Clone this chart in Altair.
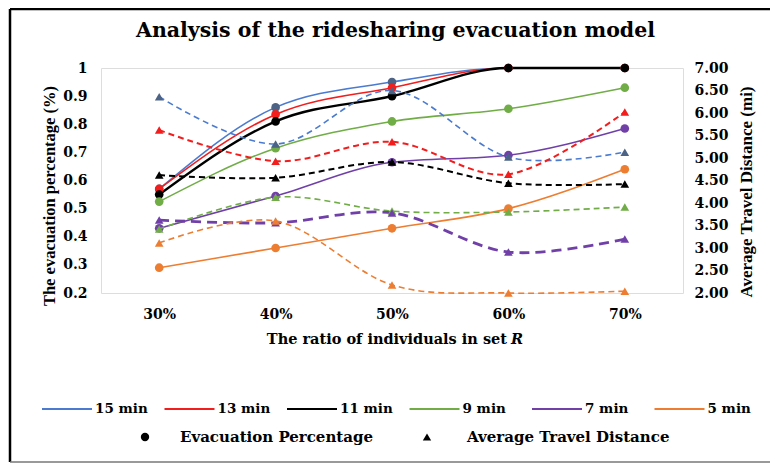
import altair as alt
import pandas as pd

ratios = ["30%", "40%", "50%", "60%", "70%"]
series = ["15 min", "13 min", "11 min", "9 min", "7 min", "5 min"]

evac_15 = [0.57, 0.86, 0.95, 1.00, 1.00]
evac_13 = [0.57, 0.835, 0.93, 1.00, 1.00]
evac_11 = [0.55, 0.81, 0.90, 1.00, 1.00]
evac_9 = [0.525, 0.715, 0.81, 0.855, 0.93]
evac_7 = [0.43, 0.545, 0.665, 0.69, 0.785]
evac_5 = [0.29, 0.36, 0.43, 0.50, 0.64]

dist_15 = [6.36, 5.31, 6.50, 5.02, 5.13]
dist_13 = [5.62, 4.93, 5.36, 4.64, 6.02]
dist_11 = [4.62, 4.56, 4.91, 4.44, 4.42]
dist_9 = [3.42, 4.13, 3.82, 3.80, 3.91]
dist_7 = [3.62, 3.56, 3.78, 2.91, 3.20]
dist_5 = [3.11, 3.60, 2.18, 2.00, 2.04]

left_ticks = [0.2, 0.3, 0.4, 0.5, 0.6, 0.7, 0.8, 0.9, 1.0]
right_ticks = [2.0, 2.5, 3.0, 3.5, 4.0, 4.5, 5.0, 5.5, 6.0, 6.5, 7.0]
metrics = ["Evacuation Percentage", "Average Travel Distance"]

title_text = "Analysis of the ridesharing evacuation model"
x_title = "The ratio of individuals in set"
x_title_it = "R"
y_left_title = "The evacuation percentage (%)"
y_right_title = "Average Travel Distance (mi)"

colors = ["#4A7BD0", "#F21E1E", "#000000", "#70AD47", "#7040A8", "#ED7D31"]
marker_blue = "#4D6385"

evac_all = [evac_15, evac_13, evac_11, evac_9, evac_7, evac_5]
dist_all = [dist_15, dist_13, dist_11, dist_9, dist_7, dist_5]


def build(rows_all, metric):
    recs = []
    for s, vals in zip(series, rows_all):
        for r, v in zip(ratios, vals):
            recs.append({"series": s, "ratio": r, "value": v, "metric": metric})
    return pd.DataFrame(recs)


evac_df = build(evac_all, metrics[0])
dist_df = build(dist_all, metrics[1])

FONT = "DejaVu Serif"
VFONT = "Liberation Serif"
W, H = 582, 225
PAD_L, PAD_T = 93, 60
TOTAL_W, TOTAL_H = 762, 455

color_scale = alt.Scale(domain=series, range=colors)
shape_scale = alt.Scale(domain=metrics, range=["circle", "triangle-up"])

x_enc = alt.X("ratio:O", sort=ratios,
              scale=alt.Scale(type="point", padding=0.5),
              axis=alt.Axis(labelAngle=0, title=None, ticks=False, domain=False,
                            labelPadding=14, labelFont=FONT, labelFontSize=14,
                            labelFontWeight="bold", labelColor="black"))

y_left = alt.Y("value:Q", scale=alt.Scale(domain=[0.2, 1.0], nice=False, zero=False),
               axis=alt.Axis(values=left_ticks, format=".1~f", title=None, grid=False,
                             ticks=False, domain=False, labelPadding=14, labelFont=FONT,
                             labelFontSize=14, labelFontWeight="bold", labelColor="black"))
y_right = alt.Y("value:Q", scale=alt.Scale(domain=[2.0, 7.0], nice=False, zero=False),
                axis=alt.Axis(orient="right", values=right_ticks, format=".2f", title=None,
                              grid=False, ticks=False, domain=False, labelPadding=11,
                              labelFont=FONT, labelFontSize=14, labelFontWeight="bold",
                              labelColor="black"))

is_blue = alt.datum.series == "15 min"

evac_line = alt.Chart(evac_df).mark_line(interpolate="monotone").encode(
    x=x_enc, y=y_left,
    color=alt.Color("series:N", scale=color_scale, legend=None),
    strokeWidth=alt.when(alt.datum.series == "11 min").then(alt.value(2.4)).otherwise(alt.value(1.6)),
)
evac_pts = alt.Chart(evac_df).mark_point(filled=True, opacity=1, size=75).encode(
    x=x_enc, y=y_left,
    shape=alt.Shape("metric:N", scale=shape_scale, legend=None),
    color=alt.when(is_blue).then(alt.value(marker_blue)).otherwise(
        alt.Color("series:N", scale=color_scale, legend=None)),
)

dist_line = alt.Chart(dist_df).mark_line(interpolate="cardinal").encode(
    x=x_enc, y=y_right,
    color=alt.Color("series:N", scale=color_scale, legend=None),
    strokeDash=alt.when(alt.datum.series == "7 min").then(alt.value([10, 6])).otherwise(alt.value([6, 4])),
    strokeWidth=alt.when(alt.datum.series == "7 min").then(alt.value(2.8))
        .when((alt.datum.series == "11 min") | (alt.datum.series == "13 min")).then(alt.value(2.0))
        .otherwise(alt.value(1.6)),
)
dist_pts = alt.Chart(dist_df).mark_point(filled=True, opacity=1, size=75).encode(
    x=x_enc, y=y_right,
    shape=alt.Shape("metric:N", scale=shape_scale, legend=None),
    color=alt.when(is_blue).then(alt.value(marker_blue)).otherwise(
        alt.Color("series:N", scale=color_scale, legend=None)),
)

evac_layer = alt.layer(evac_line, evac_pts)
dist_layer = alt.layer(dist_line, dist_pts)

one = pd.DataFrame({"k": [0]})


def text_layer(txt, x, y, size, angle=0, align="center", italic=False,
               baseline="alphabetic", font=FONT):
    kw = dict(font=font, fontSize=size, fontWeight="bold", color="black",
              align=align, baseline=baseline)
    if angle:
        kw["angle"] = angle
    if italic:
        kw["fontStyle"] = "italic"
    return alt.Chart(pd.DataFrame({"t": [txt]})).mark_text(**kw).encode(
        text="t:N", x=alt.value(x), y=alt.value(y))


title_l = text_layer(title_text, 294.5, -31, 20.5)
xt1 = text_layer(x_title, 406, 276, 14.5, align="right")
xt2 = text_layer(x_title_it, 410, 276, 14.5, align="left", italic=True)
ylt = text_layer(y_left_title, -51, 128, 16.5, angle=270, baseline="middle", font=VFONT)
yrt = text_layer(y_right_title, 646, 124, 17, angle=270, baseline="middle", font=VFONT)

# custom legend (row 1: series lines, row 2: marker shapes)
LEG_Y1, LEG_Y2 = 341, 369
LEG_X0, LEG_STEP, LEG_LEN = -59, 122.5, 50
legend_layers = []
for i, (s, c) in enumerate(zip(series, colors)):
    px = LEG_X0 + i * LEG_STEP
    legend_layers.append(
        alt.Chart(one).mark_rule(color=c, strokeWidth=2).encode(
            x=alt.value(px), x2=alt.value(px + LEG_LEN), y=alt.value(LEG_Y1)))
    legend_layers.append(text_layer(s, px + LEG_LEN + 3, LEG_Y1, 13.5, align="left",
                                    baseline="middle"))

legend_layers.append(
    alt.Chart(one).mark_point(shape="circle", filled=True, color="black", opacity=1,
                              size=70).encode(x=alt.value(44), y=alt.value(LEG_Y2)))
legend_layers.append(text_layer(metrics[0], 79, LEG_Y2, 15, align="left", baseline="middle"))
legend_layers.append(
    alt.Chart(one).mark_point(shape="triangle-up", filled=True, color="black", opacity=1,
                              size=70).encode(x=alt.value(326), y=alt.value(LEG_Y2)))
legend_layers.append(text_layer(metrics[1], 366, LEG_Y2, 15, align="left", baseline="middle"))

top_rule = alt.Chart(one).mark_rule(color="black", strokeWidth=2.5).encode(
    x=alt.value(-91), x2=alt.value(TOTAL_W - PAD_L + 5), y=alt.value(-59))
left_rule = alt.Chart(one).mark_rule(color="black", strokeWidth=2.5).encode(
    x=alt.value(-91), y=alt.value(-59), y2=alt.value(TOTAL_H - PAD_T - 1))
bottom_rule = alt.Chart(one).mark_rule(color="#777777", strokeWidth=1.5).encode(
    x=alt.value(-91), x2=alt.value(TOTAL_W - PAD_L + 5), y=alt.value(TOTAL_H - PAD_T - 1))

chart = alt.layer(
    evac_layer, dist_layer, title_l, xt1, xt2, ylt, yrt, *legend_layers,
    top_rule, left_rule, bottom_rule
).resolve_scale(y="independent").properties(
    width=W, height=H,
    autosize=alt.AutoSizeParams(type="none"),
    padding={"left": PAD_L, "top": PAD_T, "right": TOTAL_W - PAD_L - W,
             "bottom": TOTAL_H - PAD_T - H},
).configure_view(stroke="black", strokeWidth=1.5).configure(background="white")

chart.save("out.html", embed_options={"renderer": "svg", "actions": False})
